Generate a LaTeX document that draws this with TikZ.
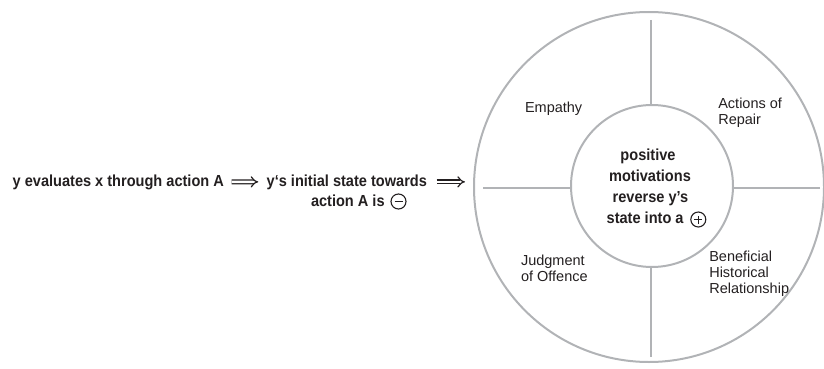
\documentclass[tikz,border=0pt]{standalone}
\usepackage{fontspec}
\setmainfont{Liberation Sans}
\newfontfamily\condbold[FakeStretch=0.91]{Liberation Sans}
\usetikzlibrary{arrows.meta}
\definecolor{ink}{HTML}{231F20}
\definecolor{ringc}{HTML}{B1B3B6}
\begin{document}
\begin{tikzpicture}[x=1pt,y=-1pt,
  every node/.style={inner sep=0pt, outer sep=0pt, text=ink},
  boldtxt/.style={font=\condbold\bfseries\fontsize{16}{19}\selectfont},
  labeltxt/.style={font=\fontsize{14.5}{16}\selectfont, anchor=base west},
  ring/.style={draw=ringc, line width=2pt},
  spoke/.style={draw=ringc, line width=2.2pt},
  dbl/.style={draw=ink, double, double distance=2.6pt, line width=1.2pt, -{Implies[length=6pt,width=12pt]}},
  sign/.style={circle, draw=ink, line width=1.1pt, minimum size=15pt},
  signbar/.style={draw=ink, line width=1.1pt}
]
\useasboundingbox (0,0) rectangle (824,369);

% rings
\node[circle, ring, minimum size=350pt] (outer) at (649,187) {};
\node[circle, ring, minimum size=162pt] (core) at (652,186) {};

% spokes
\coordinate (sN) at (651,20);
\coordinate (sS) at (651,357);
\coordinate (sW) at (483,188);
\coordinate (sE) at (820,188);
\draw[spoke] (sN) -- (sN |- core.north);
\draw[spoke] (sS) -- (sS |- core.south);
\draw[spoke] (sW) -- (sW -| core.west);
\draw[spoke] (sE) -- (sE -| core.east);

% left chain
\node[boldtxt, anchor=base west] (l1) at (12.7,186) {y evaluates x through action A};
\node[boldtxt, anchor=base west] (l2) at (266.7,186) {y‘s initial state towards};
\node[boldtxt, anchor=base west] (l3) at (311,206) {action A is};
\node[sign] (minus) at (398.5,201.5) {};
\draw[signbar] ([xshift=-4pt]minus.center) -- ([xshift=4pt]minus.center);

\draw[dbl, shorten <=7.8pt, shorten >=8.4pt] (l1.east) -- (l2.west);
\draw[dbl, shorten <=9.8pt, shorten >=9pt] (l2.east) -- (l2.east -| outer.west);

% centre text
\node[boldtxt, anchor=base] (c1) at (648,160.5) {positive};
\node[boldtxt, anchor=base] (c2) at (650,181.3) {motivations};
\node[boldtxt, anchor=base] (c3) at (650.5,202) {reverse y’s};
\node[boldtxt, anchor=base west] (c4) at (606.7,223) {state into a};
\node[sign] (plus) at (698.3,219.5) {};
\draw[signbar] ([xshift=-4pt]plus.center) -- ([xshift=4pt]plus.center);
\draw[signbar] ([yshift=-4pt]plus.center) -- ([yshift=4pt]plus.center);

% quadrant labels
\node[labeltxt] (q1) at (525,112.5) {Empathy};
\node[labeltxt] (q2a) at (718.3,108.3) {Actions of};
\node[labeltxt] (q2b) at (718.3,124.3) {Repair};
\node[labeltxt] (q3a) at (521,265) {Judgment};
\node[labeltxt] (q3b) at (521,281.5) {of Offence};
\node[labeltxt] (q4a) at (709.3,261.7) {Beneficial};
\node[labeltxt] (q4b) at (709.3,277.7) {Historical};
\node[labeltxt] (q4c) at (709.3,293.5) {Relationship};
\end{tikzpicture}
\end{document}
